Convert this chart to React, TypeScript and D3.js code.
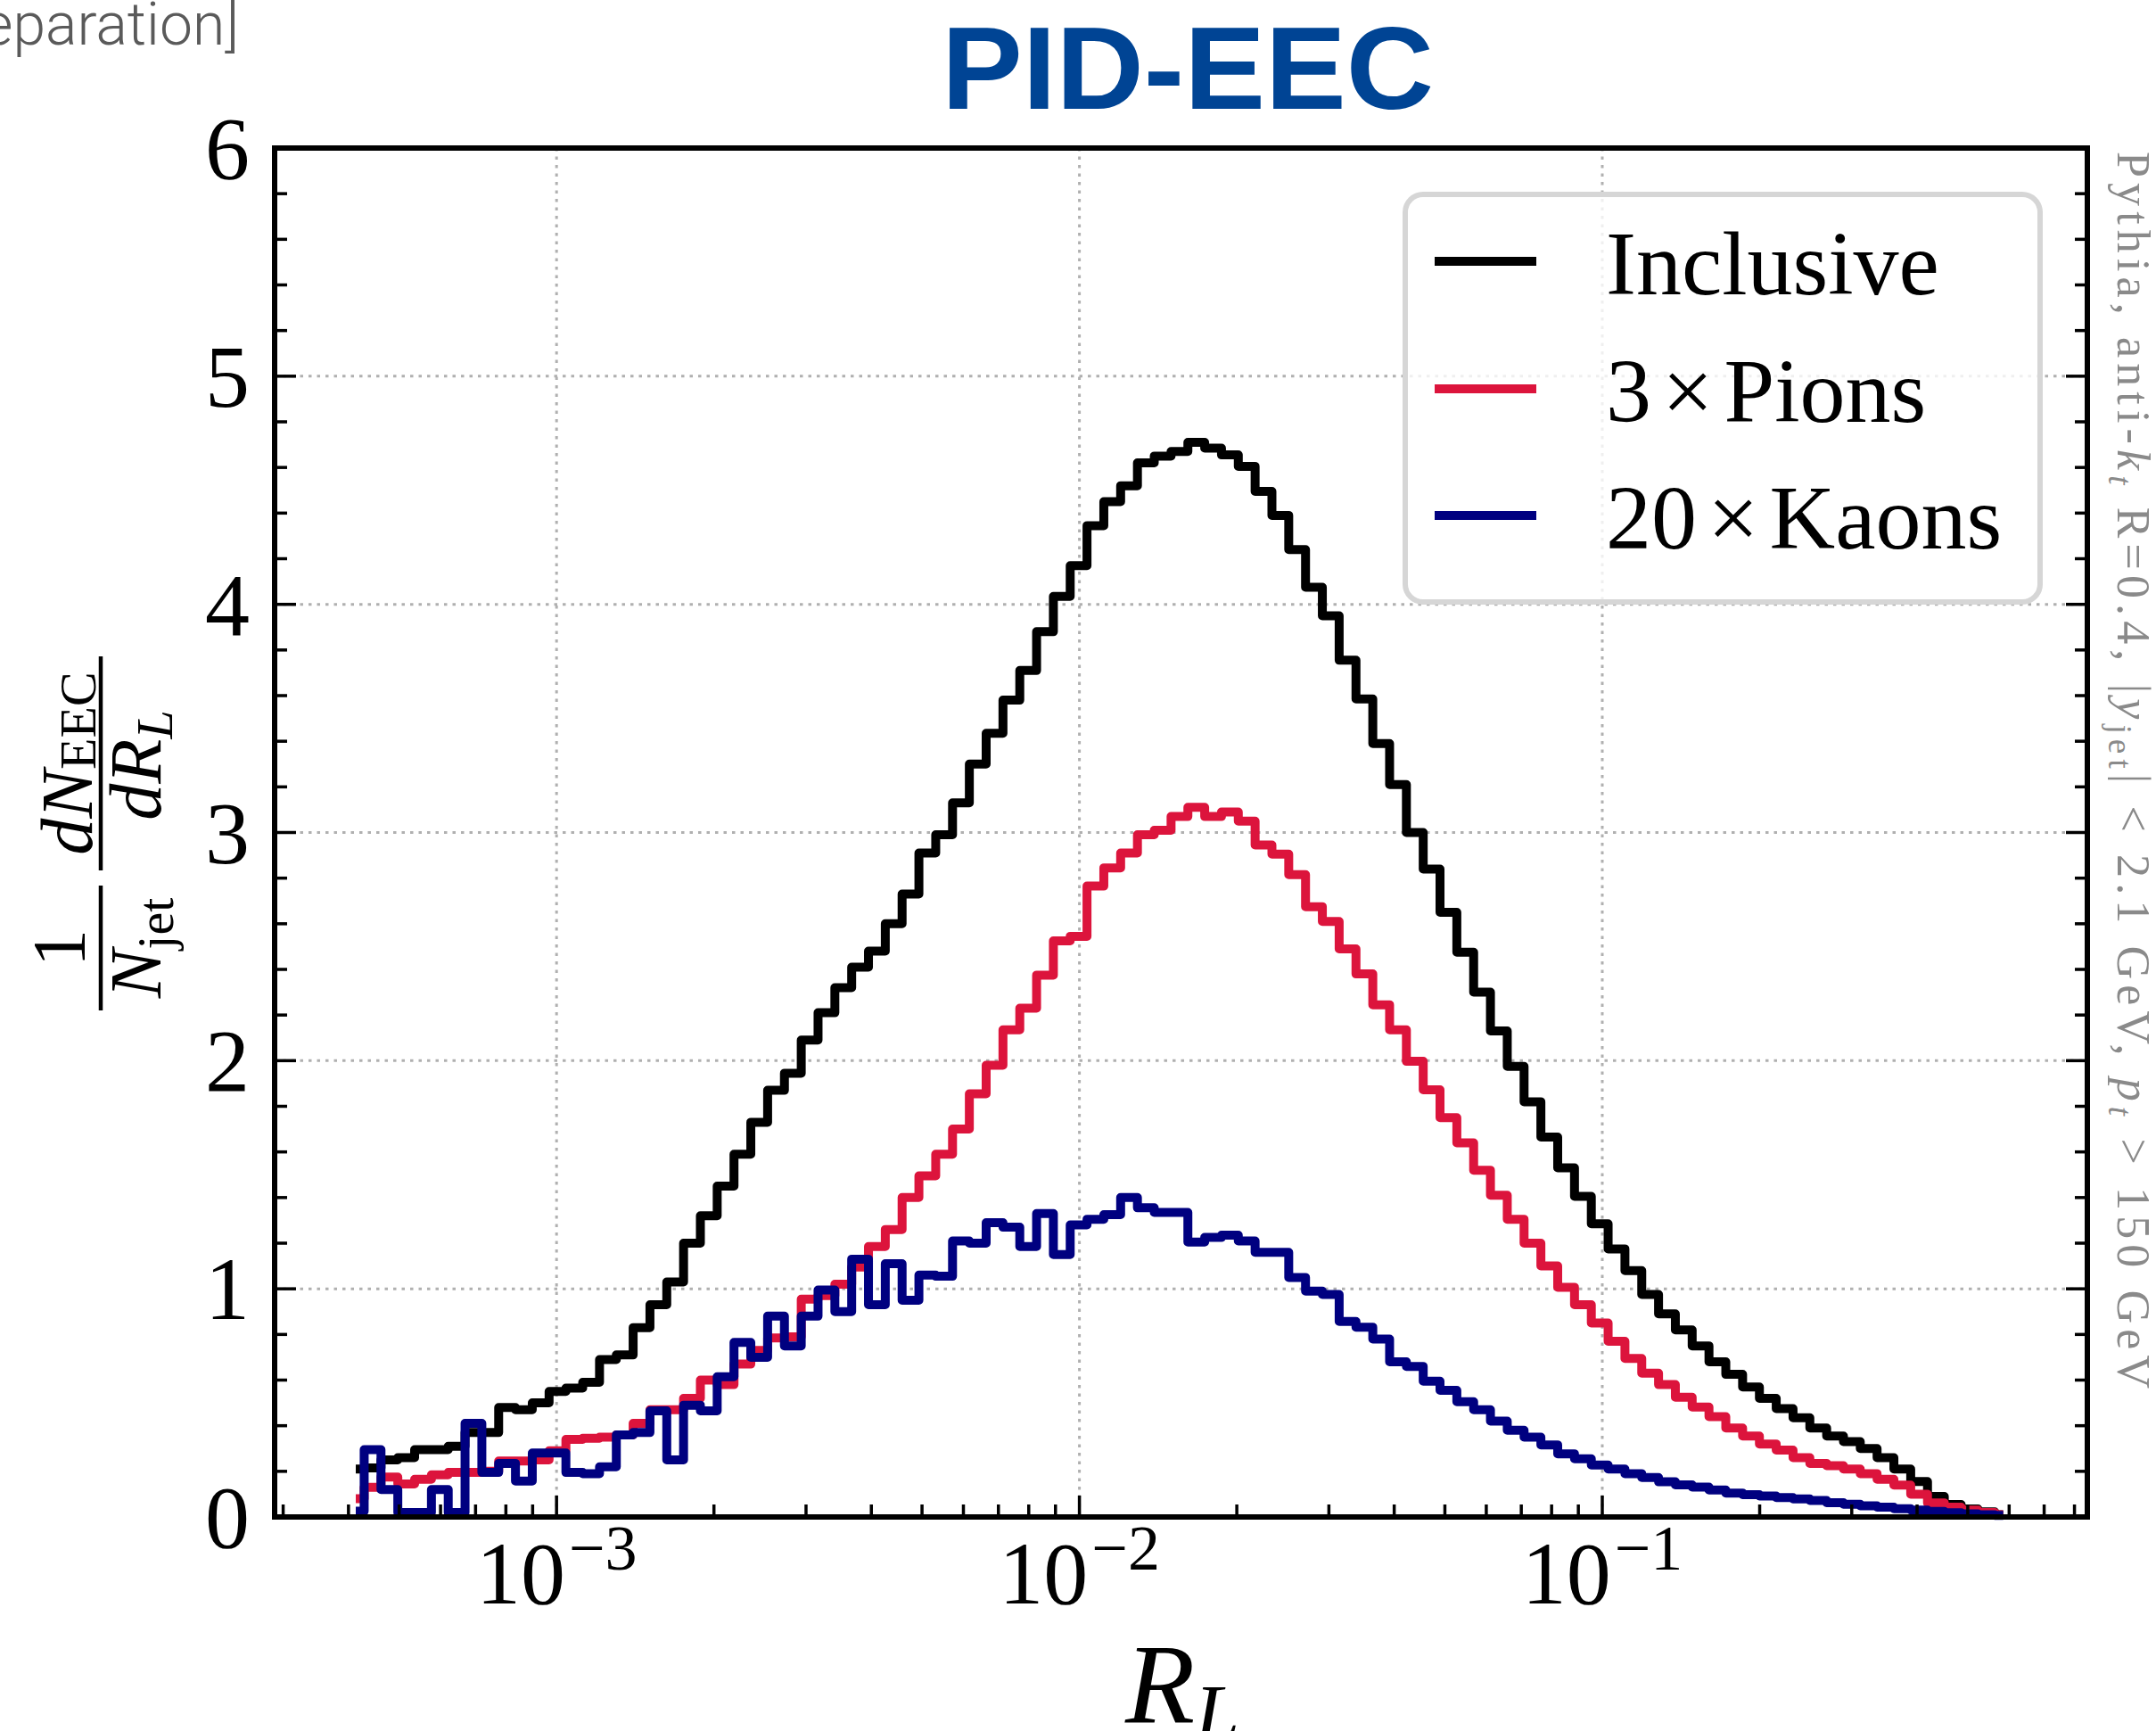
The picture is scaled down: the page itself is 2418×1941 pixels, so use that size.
import React from 'react';
import * as d3 from 'd3';

const W = 2418;
const H = 1941;
const PLOT = { left: 308, right: 2341, top: 166, bottom: 1701 };

// axis limits (log10 for x)
const X_LOG_LIMITS = [-3.5392, -0.0723];
const Y_LIMITS = [0, 6];

// binning of the histograms (log10 of first bin centre and log10 step)
const FIRST_BIN_LOG = -3.384;
const BIN_STEP_LOG = 0.03215;

const inclusive = [
  0.21, 0.215, 0.25, 0.26, 0.295, 0.295, 0.31, 0.37, 0.37, 0.48,
  0.47, 0.5, 0.55, 0.565, 0.59, 0.69, 0.71, 0.83, 0.93, 1.03,
  1.2, 1.32, 1.45, 1.59, 1.73, 1.87, 1.945, 2.09, 2.21, 2.32,
  2.41, 2.48, 2.6, 2.73, 2.91, 2.99, 3.13, 3.3, 3.435, 3.58,
  3.71, 3.88, 4.035, 4.17, 4.345, 4.45, 4.52, 4.62, 4.65, 4.67,
  4.71, 4.685, 4.655, 4.605, 4.495, 4.39, 4.24, 4.075, 3.95, 3.755,
  3.585, 3.39, 3.21, 3.0, 2.84, 2.65, 2.475, 2.3, 2.13, 1.975,
  1.82, 1.665, 1.53, 1.405, 1.285, 1.175, 1.08, 0.975, 0.89, 0.82,
  0.75, 0.68, 0.625, 0.57, 0.52, 0.475, 0.435, 0.39, 0.355, 0.33,
  0.3, 0.26, 0.21, 0.155, 0.09, 0.055, 0.035, 0.022, 0.01,
];

const pions3x = [
  0.08, 0.13, 0.175, 0.145, 0.165, 0.185, 0.195, 0.195, 0.2, 0.245,
  0.245, 0.25, 0.29, 0.34, 0.345, 0.35, 0.36, 0.41, 0.47, 0.47,
  0.52, 0.6, 0.58, 0.67, 0.73, 0.785, 0.79, 0.955, 0.97, 1.02,
  1.095, 1.185, 1.26, 1.4, 1.495, 1.59, 1.7, 1.855, 1.98, 2.135,
  2.23, 2.375, 2.525, 2.545, 2.765, 2.845, 2.91, 2.99, 3.01, 3.07,
  3.11, 3.07, 3.09, 3.05, 2.945, 2.905, 2.815, 2.675, 2.61, 2.49,
  2.38, 2.245, 2.135, 1.997, 1.872, 1.75, 1.64, 1.52, 1.41, 1.305,
  1.2, 1.1, 1.007, 0.93, 0.85, 0.77, 0.695, 0.63, 0.58, 0.525,
  0.482, 0.44, 0.39, 0.355, 0.32, 0.293, 0.26, 0.235, 0.225, 0.21,
  0.19, 0.165, 0.14, 0.1, 0.062, 0.043, 0.03, 0.02, 0.01,
];

const kaons20x = [
  0.025, 0.295, 0.12, 0.02, 0.02, 0.12, 0.02, 0.41, 0.195, 0.235,
  0.157, 0.28, 0.28, 0.195, 0.19, 0.22, 0.36, 0.37, 0.465, 0.25,
  0.49, 0.465, 0.615, 0.765, 0.7, 0.88, 0.75, 0.88, 0.995, 0.9,
  1.13, 0.93, 1.11, 0.95, 1.06, 1.055, 1.21, 1.2, 1.29, 1.27,
  1.185, 1.33, 1.15, 1.28, 1.305, 1.325, 1.4, 1.355, 1.335, 1.335,
  1.205, 1.225, 1.235, 1.21, 1.16, 1.16, 1.05, 0.99, 0.975, 0.857,
  0.832, 0.78, 0.68, 0.66, 0.595, 0.555, 0.505, 0.47, 0.42, 0.38,
  0.35, 0.316, 0.277, 0.255, 0.228, 0.21, 0.19, 0.173, 0.154, 0.141,
  0.131, 0.118, 0.105, 0.098, 0.092, 0.085, 0.079, 0.072, 0.0625, 0.056,
  0.049, 0.043, 0.036, 0.03, 0.024, 0.019, 0.014, 0.01, 0.007,
];

const seriesLabels = ['Inclusive', '3×Pions', '20×Kaons'];
const seriesColors = ['#000000', '#DC143C', '#000080'];
const seriesValues = [inclusive, pions3x, kaons20x];

const yMajorTicks = [0, 1, 2, 3, 4, 5, 6];
const xMajorExponents = [-3, -2, -1];
const xMinorDecades = [-4, -3, -2, -1];
const xMinorMultipliers = [2, 3, 4, 5, 6, 7, 8, 9];

const SERIF = '"Liberation Serif", "Times New Roman", serif';

function LegendLabel({ label }: { label: string }) {
  const parts = label.split('×');
  if (parts.length < 2) return <>{label}</>;
  return (
    <>
      {parts[0]}
      <tspan dx={12}>×</tspan>
      <tspan dx={12}>{parts[1]}</tspan>
    </>
  );
}

export default function App() {
  const x = d3
    .scaleLog()
    .domain([Math.pow(10, X_LOG_LIMITS[0]), Math.pow(10, X_LOG_LIMITS[1])])
    .range([PLOT.left, PLOT.right]);
  const y = d3.scaleLinear().domain(Y_LIMITS).range([PLOT.bottom, PLOT.top]);

  const centers = inclusive.map((_, i) => Math.pow(10, FIRST_BIN_LOG + i * BIN_STEP_LOG));

  const line = d3
    .line<number>()
    .x((_, i) => x(centers[i]))
    .y((d) => y(d))
    .curve(d3.curveStep);

  const [xmin, xmax] = x.domain();
  const xMinor: number[] = [];
  xMinorDecades.forEach((e) =>
    xMinorMultipliers.forEach((m) => {
      const v = m * Math.pow(10, e);
      if (v > xmin && v < xmax) xMinor.push(v);
    })
  );
  const yMinor: number[] = [];
  for (let i = 0; i <= 30; i++) {
    if (i % 5 !== 0) yMinor.push(i * 0.2);
  }

  const MAJ = 24;
  const MIN = 14;
  const tickW = 3.5;

  const legend = { x: 1576, y: 218, w: 712, h: 457 };
  const legendRows = [293, 436, 578];

  return (
    <svg
      width={W}
      height={H}
      viewBox={`0 0 ${W} ${H}`}
      style={{ position: 'absolute', left: 0, top: 0, display: 'block', background: '#fff' }}
    >
      <rect x={0} y={0} width={W} height={H} fill="#ffffff" />

      {/* top-left note, clipped by the figure edge as in the original */}
      <text
        x={268}
        y={50}
        textAnchor="end"
        fontFamily='Roboto, "Liberation Sans", sans-serif'
        fontWeight={300}
        fontSize={66}
        fill="#5a5a5a"
      >
        [Perfect separation]
      </text>

      {/* title */}
      <text
        x={1332}
        y={122}
        textAnchor="middle"
        fontFamily='"Liberation Sans", Arial, sans-serif'
        fontWeight="bold"
        fontSize={132}
        fill="#004494"
        textLength={552}
        lengthAdjust="spacingAndGlyphs"
      >
        PID-EEC
      </text>

      {/* grid */}
      <g stroke="#b0b0b0" strokeWidth={3} strokeDasharray="3.5 6">
        {xMajorExponents.map((e) => (
          <line key={`gx${e}`} x1={x(Math.pow(10, e))} x2={x(Math.pow(10, e))} y1={PLOT.top} y2={PLOT.bottom} />
        ))}
        {yMajorTicks
          .filter((v) => v > 0 && v < 6)
          .map((v) => (
            <line key={`gy${v}`} x1={PLOT.left} x2={PLOT.right} y1={y(v)} y2={y(v)} />
          ))}
      </g>

      {/* curves */}
      {seriesValues.map((vals, i) => (
        <path
          key={seriesLabels[i]}
          d={line(vals) || ''}
          fill="none"
          stroke={seriesColors[i]}
          strokeWidth={10}
          strokeLinejoin="round"
          strokeLinecap="butt"
        />
      ))}

      {/* ticks */}
      <g stroke="#000" strokeWidth={tickW}>
        {xMajorExponents.map((e) => {
          const px = x(Math.pow(10, e));
          return <line key={`xt${e}`} x1={px} x2={px} y1={PLOT.bottom} y2={PLOT.bottom - MAJ} />;
        })}
        {xMinor.map((v, i) => {
          const px = x(v);
          return <line key={`xm${i}`} x1={px} x2={px} y1={PLOT.bottom} y2={PLOT.bottom - MIN} />;
        })}
        {yMajorTicks.map((v) => (
          <g key={`yt${v}`}>
            <line x1={PLOT.left} x2={PLOT.left + MAJ} y1={y(v)} y2={y(v)} />
            <line x1={PLOT.right} x2={PLOT.right - MAJ} y1={y(v)} y2={y(v)} />
          </g>
        ))}
        {yMinor.map((v, i) => (
          <g key={`ym${i}`}>
            <line x1={PLOT.left} x2={PLOT.left + MIN} y1={y(v)} y2={y(v)} />
            <line x1={PLOT.right} x2={PLOT.right - MIN} y1={y(v)} y2={y(v)} />
          </g>
        ))}
      </g>

      {/* frame */}
      <rect
        x={PLOT.left}
        y={PLOT.top}
        width={PLOT.right - PLOT.left}
        height={PLOT.bottom - PLOT.top}
        fill="none"
        stroke="#000"
        strokeWidth={6}
      />

      {/* y tick labels */}
      <g fontFamily={SERIF} fontSize={100} fill="#000" textAnchor="end">
        {yMajorTicks.map((v) => (
          <text key={`yl${v}`} x={280} y={y(v) + 34}>
            {String(v)}
          </text>
        ))}
      </g>

      {/* x tick labels */}
      <g fontFamily={SERIF} fill="#000">
        {xMajorExponents.map((e) => (
          <text key={`xl${e}`} x={x(Math.pow(10, e))} y={1798} textAnchor="middle" fontSize={100}>
            10
            <tspan fontSize={72} dy={-38} dx={4}>
              {`\u2212${Math.abs(e)}`}
            </tspan>
          </text>
        ))}
      </g>

      {/* x label (its bottom is cut by the figure edge, as in the original) */}
      <text x={1326} y={1932} textAnchor="middle" fontFamily={SERIF} fontSize={128} fontStyle="italic">
        R
        <tspan fontSize={90} dy={20}>
          L
        </tspan>
      </text>

      {/* y label: 1/N_jet dN_EEC/dR_L */}
      <g transform="translate(113, 1133) rotate(-90)" fontFamily={SERIF} fill="#000">
        <line x1={0} x2={140} y1={0} y2={0} stroke="#000" strokeWidth={4.5} />
        <line x1={157} x2={397} y1={0} y2={0} stroke="#000" strokeWidth={4.5} />
        <text x={70} y={-18} textAnchor="middle" fontSize={84}>
          1
        </text>
        <text x={70} y={67} textAnchor="middle" fontSize={82}>
          <tspan fontStyle="italic">N</tspan>
          <tspan fontSize={58} dy={14}>
            jet
          </tspan>
        </text>
        <text x={277} y={-10} textAnchor="middle" fontSize={82}>
          <tspan fontStyle="italic">dN</tspan>
          <tspan fontSize={58} dy={4}>
            EEC
          </tspan>
        </text>
        <text x={275} y={67} textAnchor="middle" fontSize={82}>
          <tspan fontStyle="italic">dR</tspan>
          <tspan fontStyle="italic" fontSize={58} dy={13}>
            L
          </tspan>
        </text>
      </g>

      {/* right-side annotation */}
      <text
        transform="translate(2375, 170) rotate(90)"
        fontFamily={SERIF}
        fontSize={52}
        fill="#8a8a8a"
        textLength={1387}
        lengthAdjust="spacing"
      >
        Pythia, anti-
        <tspan fontStyle="italic">k</tspan>
        <tspan fontStyle="italic" fontSize={37} dy={10}>
          t
        </tspan>
        <tspan dy={-10}> R=0.4, |</tspan>
        <tspan fontStyle="italic">y</tspan>
        <tspan fontSize={37} dy={10}>
          jet
        </tspan>
        <tspan dy={-10}>| &lt; 2.1 GeV, </tspan>
        <tspan fontStyle="italic">p</tspan>
        <tspan fontStyle="italic" fontSize={37} dy={10}>
          t
        </tspan>
        <tspan dy={-10}> &gt; 150 GeV</tspan>
      </text>

      {/* legend */}
      <rect
        x={legend.x}
        y={legend.y}
        width={legend.w}
        height={legend.h}
        rx={20}
        ry={20}
        fill="#ffffff"
        fillOpacity={0.8}
        stroke="#d6d6d6"
        strokeWidth={6}
      />
      {seriesLabels.map((lab, i) => (
        <g key={`lg${i}`}>
          <line x1={1609} x2={1723} y1={legendRows[i]} y2={legendRows[i]} stroke={seriesColors[i]} strokeWidth={10} />
          <text x={1801} y={legendRows[i] + 37} fontFamily={SERIF} fontSize={102} fill="#000">
            <LegendLabel label={lab} />
          </text>
        </g>
      ))}
    </svg>
  );
}
